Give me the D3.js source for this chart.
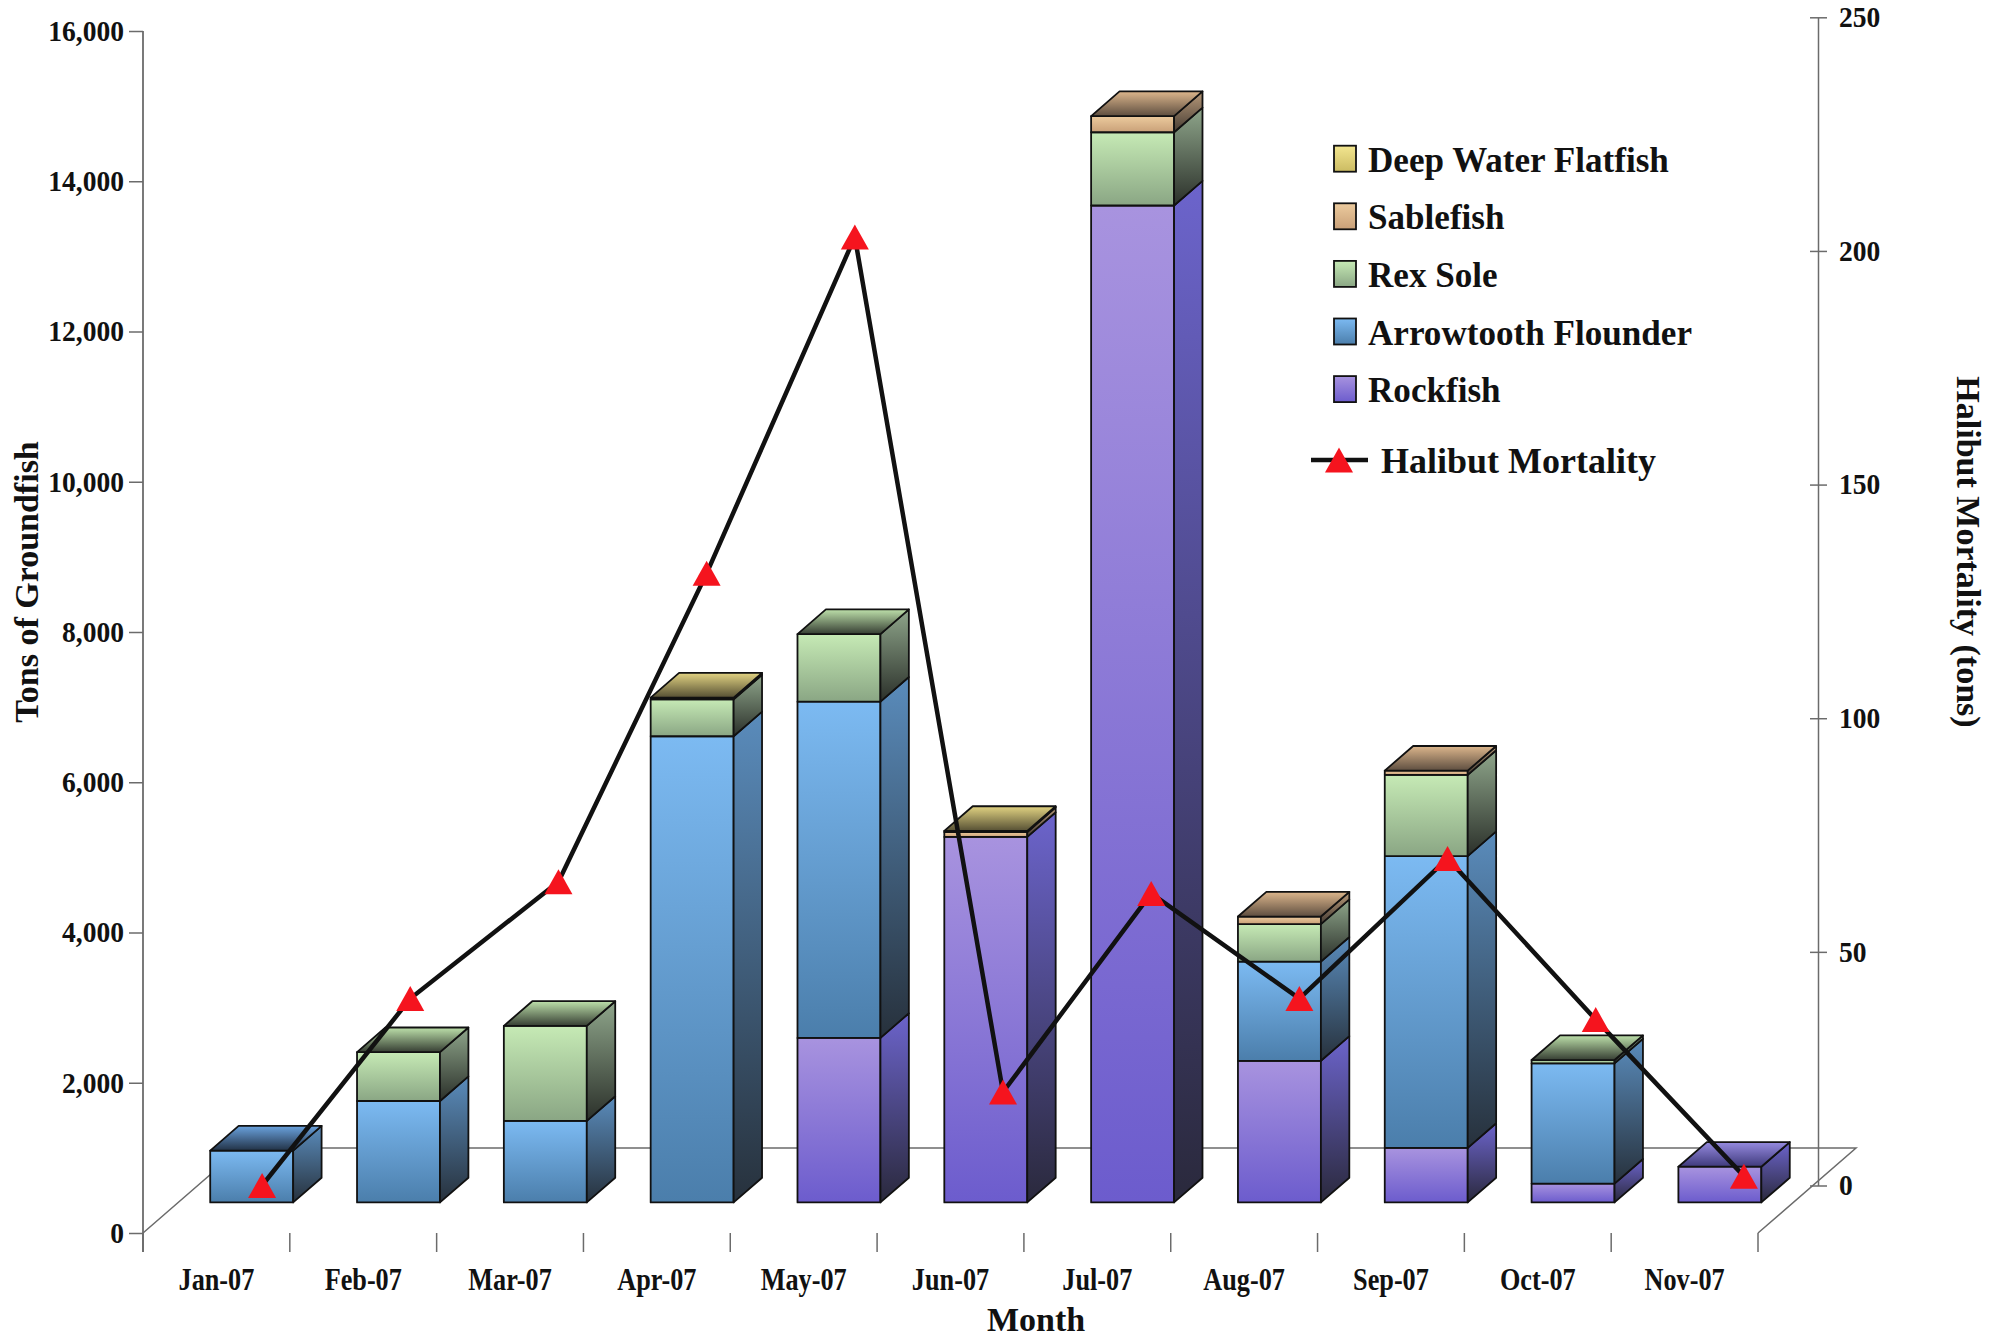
<!DOCTYPE html>
<html>
<head>
<meta charset="utf-8">
<script src="https://cdn.jsdelivr.net/npm/d3@7"></script>
<style>
  html, body { margin: 0; padding: 0; background: #ffffff; }
  svg { display: block; }
  text { font-family: "Liberation Serif", "Times New Roman", serif; font-weight: bold; fill: #111; }
</style>
</head>
<body>
<svg id="chart" width="1996" height="1340"></svg>
<script>
// ---- Data: monthly groundfish catch (tons) and halibut mortality (tons) ----
const months = ["Jan-07", "Feb-07", "Mar-07", "Apr-07", "May-07", "Jun-07",
                "Jul-07", "Aug-07", "Sep-07", "Oct-07", "Nov-07"];
const rockfish           = [0,   0,    0,    0,    2190, 4865, 13270, 1885, 725,  250,  475];
const arrowtoothFlounder = [690, 1350, 1085, 6205, 4475, 0,    0,     1320, 3885, 1600, 0];
const rexSole            = [0,   650,  1265, 490,  900,  0,    975,   500,  1080, 45,   0];
const sablefish          = [0,   0,    0,    0,    0,    65,   215,   100,  57,   0,    0];
const deepWaterFlatfish  = [0,   0,    0,    25,   0,    15,   0,     0,    0,    0,    0];
const halibutMortality   = [0,   40,   65,   131,  203,  20,   62.5,  40,   70,   35.5, 2];

const leftTicks  = [0, 2000, 4000, 6000, 8000, 10000, 12000, 14000, 16000];
const rightTicks = [0, 50, 100, 150, 200, 250];

const stackKeys   = ["Rockfish", "Arrowtooth Flounder", "Rex Sole", "Sablefish", "Deep Water Flatfish"];
const legendOrder = ["Deep Water Flatfish", "Sablefish", "Rex Sole", "Arrowtooth Flounder", "Rockfish"];

const rows = months.map((m, i) => ({
  month: m,
  "Rockfish": rockfish[i],
  "Arrowtooth Flounder": arrowtoothFlounder[i],
  "Rex Sole": rexSole[i],
  "Sablefish": sablefish[i],
  "Deep Water Flatfish": deepWaterFlatfish[i]
}));

// ---- Face shading per series: front, side and top face gradients ----
const palette = {
  "Rockfish":            { front: ["#a893df", "#6c5ccd"], side: ["#6c64cc", "#2a293c"], top: ["#968be0", "#3f3a7c"], id: "rock" },
  "Arrowtooth Flounder": { front: ["#7cbaf2", "#4b7eab"], side: ["#5a8cbc", "#27313c"], top: ["#6aa2de", "#223246"], id: "arrow" },
  "Rex Sole":            { front: ["#c6eab5", "#8aa684"], side: ["#8fa68b", "#2b302a"], top: ["#bde0aa", "#363e33"], id: "rex" },
  "Sablefish":           { front: ["#eccb9e", "#c9a078"], side: ["#b89a7a", "#463c33"], top: ["#dcb68c", "#5e4e40"], id: "sable" },
  "Deep Water Flatfish": { front: ["#f3e690", "#cbbb62"], side: ["#bbae72", "#48442f"], top: ["#e2d382", "#565034"], id: "dwf" }
};

// ---- Layout ----
const floorLeft = 143, floorRight = 1758, floorFrontY = 1233;
const floorDepth = [98, -85];              // oblique depth vector of the floor
const depthFront = 0.36, depthBack = 0.65; // bar position within the floor depth
const barFrac = 0.565;

const svg = d3.select("#chart");
const defs = svg.append("defs");

Object.entries(palette).forEach(([name, p]) => {
  ["front", "side", "top"].forEach(face => {
    const g = defs.append("linearGradient")
      .attr("id", `${p.id}-${face}`)
      .attr("x1", 0).attr("y1", 0).attr("x2", 0).attr("y2", 1);
    g.append("stop").attr("offset", "0%").attr("stop-color", p[face][0]);
    g.append("stop").attr("offset", "100%").attr("stop-color", p[face][1]);
  });
});

const x = d3.scaleBand().domain(months).range([floorLeft, floorRight]).padding(0);
const y = d3.scaleLinear().domain([0, 16000]).range([floorFrontY, 31]);
const xLine = d3.scaleBand().domain(months).range([188, 1818]).padding(0);
const yLine = d3.scaleLinear().domain([0, 250]).range([1185.5, 17.3]);

const fdx = floorDepth[0] * depthFront, fdy = floorDepth[1] * depthFront;
const bdx = floorDepth[0] * (depthBack - depthFront), bdy = floorDepth[1] * (depthBack - depthFront);
const barW = x.bandwidth() * barFrac;

// ---- Floor ----
const floorG = svg.append("g").attr("fill", "none").attr("stroke", "#6b6b6b").attr("stroke-width", 1.5);
const fl = [floorLeft, floorFrontY], fr = [floorRight, floorFrontY];
const bl = [floorLeft + floorDepth[0], floorFrontY + floorDepth[1]];
const br = [floorRight + floorDepth[0], floorFrontY + floorDepth[1]];
floorG.append("path").attr("d", d3.line()([fl, bl, br, fr]));

// ---- Right axis (halibut mortality) ----
const gR = svg.append("g")
  .attr("transform", `translate(1818,0)`)
  .call(d3.axisRight(yLine).tickValues(rightTicks).tickSizeInner(9).tickSizeOuter(0).tickPadding(13));
gR.select(".domain").attr("stroke", "#6b6b6b").attr("stroke-width", 1.5);
gR.selectAll(".tick line").attr("x1", -8).attr("stroke", "#6b6b6b").attr("stroke-width", 1.5);
gR.selectAll(".tick text")
  .attr("font-size", 29).attr("fill", "#111")
  .style("font-family", "'Liberation Serif', serif").style("font-weight", "bold")
  .attr("transform", "scale(0.95,1)");

// ---- Stacked 3-D columns ----
const stacked = d3.stack().keys(stackKeys)(rows);
const barsG = svg.append("g").attr("stroke", "#111").attr("stroke-width", 1.8).attr("stroke-linejoin", "round");

months.forEach((m, i) => {
  const x0 = x(m) + (x.bandwidth() - barW) / 2 + fdx;
  const segs = stacked
    .map(layer => ({ key: layer.key, v0: layer[i][0], v1: layer[i][1] }))
    .filter(s => s.v1 > s.v0);
  const barG = barsG.append("g").attr("class", "bar");
  segs.forEach(s => {
    const p = palette[s.key];
    const yt = y(s.v1) + fdy, yb = y(s.v0) + fdy;
    barG.append("rect")
      .attr("x", x0).attr("y", yt).attr("width", barW).attr("height", yb - yt)
      .attr("fill", `url(#${p.id}-front)`);
    barG.append("path")
      .attr("d", d3.line()([[x0 + barW, yb], [x0 + barW, yt], [x0 + barW + bdx, yt + bdy], [x0 + barW + bdx, yb + bdy]]) + "Z")
      .attr("fill", `url(#${p.id}-side)`);
  });
  const topSeg = segs[segs.length - 1];
  const yt = y(topSeg.v1) + fdy;
  barG.append("path")
    .attr("d", d3.line()([[x0, yt], [x0 + barW, yt], [x0 + barW + bdx, yt + bdy], [x0 + bdx, yt + bdy]]) + "Z")
    .attr("fill", `url(#${palette[topSeg.key].id}-top)`);
});

// ---- Left axis (tons of groundfish) ----
const gL = svg.append("g")
  .attr("transform", `translate(${floorLeft},0)`)
  .call(d3.axisLeft(y).tickValues(leftTicks).tickSizeInner(14).tickSizeOuter(0).tickPadding(6).tickFormat(d3.format(",")));
gL.select(".domain").remove();
gL.selectAll(".tick line").attr("stroke", "#6b6b6b").attr("stroke-width", 1.5);
gL.selectAll(".tick text")
  .attr("font-size", 29).attr("fill", "#111")
  .style("font-family", "'Liberation Serif', serif").style("font-weight", "bold")
  .attr("transform", "scale(0.95,1)");
svg.append("line")
  .attr("x1", floorLeft).attr("x2", floorLeft)
  .attr("y1", y(16000)).attr("y2", floorFrontY + 19)
  .attr("stroke", "#6b6b6b").attr("stroke-width", 1.8);

// ---- Category axis ----
const gB = svg.append("g")
  .attr("transform", `translate(0,${floorFrontY})`)
  .call(d3.axisBottom(x).tickSize(0).tickPadding(0));
gB.select(".domain").remove();
gB.selectAll(".tick text")
  .attr("y", 57).attr("dy", 0)
  .attr("font-size", 32).attr("fill", "#111")
  .style("font-family", "'Liberation Serif', serif").style("font-weight", "bold")
  .attr("transform", "scale(0.82,1)");
const boundaries = months.map(m => x(m)).concat([floorRight]);
svg.append("g").selectAll("line").data(boundaries).join("line")
  .attr("x1", d => d).attr("x2", d => d)
  .attr("y1", floorFrontY).attr("y2", floorFrontY + 19)
  .attr("stroke", "#6b6b6b").attr("stroke-width", 1.5);

// ---- Halibut mortality line ----
const linePts = months.map((m, i) => [xLine(m) + xLine.bandwidth() / 2, yLine(halibutMortality[i])]);
svg.append("path")
  .attr("d", d3.line()(linePts))
  .attr("fill", "none").attr("stroke", "#111").attr("stroke-width", 4.5).attr("stroke-linejoin", "miter");
const tri = "M0,-12.5L14,12.5L-14,12.5Z";
svg.append("g").selectAll("path").data(linePts).join("path")
  .attr("d", tri)
  .attr("transform", d => `translate(${d[0]},${d[1]})`)
  .attr("fill", "#f5141e");

// ---- Axis titles ----
svg.append("text")
  .attr("transform", "translate(38,582) rotate(-90)")
  .attr("text-anchor", "middle").attr("font-size", 34)
  .text("Tons of Groundfish");
svg.append("text")
  .attr("transform", "translate(1957,552) rotate(90)")
  .attr("text-anchor", "middle").attr("font-size", 34)
  .text("Halibut Mortality (tons)");
svg.append("text")
  .attr("x", 1036).attr("y", 1331)
  .attr("text-anchor", "middle").attr("font-size", 34)
  .text("Month");

// ---- Legend ----
const legend = svg.append("g");
legendOrder.forEach((name, i) => {
  const top = 145.7 + i * 57.6;
  legend.append("rect")
    .attr("x", 1334).attr("y", top).attr("width", 22).attr("height", 26)
    .attr("fill", `url(#${palette[name].id}-front)`)
    .attr("stroke", "#111").attr("stroke-width", 1.8);
  legend.append("text")
    .attr("transform", `translate(1368,${top + 26}) scale(0.975,1)`)
    .attr("font-size", 36)
    .text(name);
});
legend.append("line")
  .attr("x1", 1311).attr("x2", 1368).attr("y1", 460).attr("y2", 460)
  .attr("stroke", "#111").attr("stroke-width", 4.5);
legend.append("path")
  .attr("d", tri)
  .attr("transform", "translate(1339,460)")
  .attr("fill", "#f5141e");
legend.append("text")
  .attr("x", 1381).attr("y", 472.7)
  .attr("font-size", 36)
  .text("Halibut Mortality");
</script>
</body>
</html>
